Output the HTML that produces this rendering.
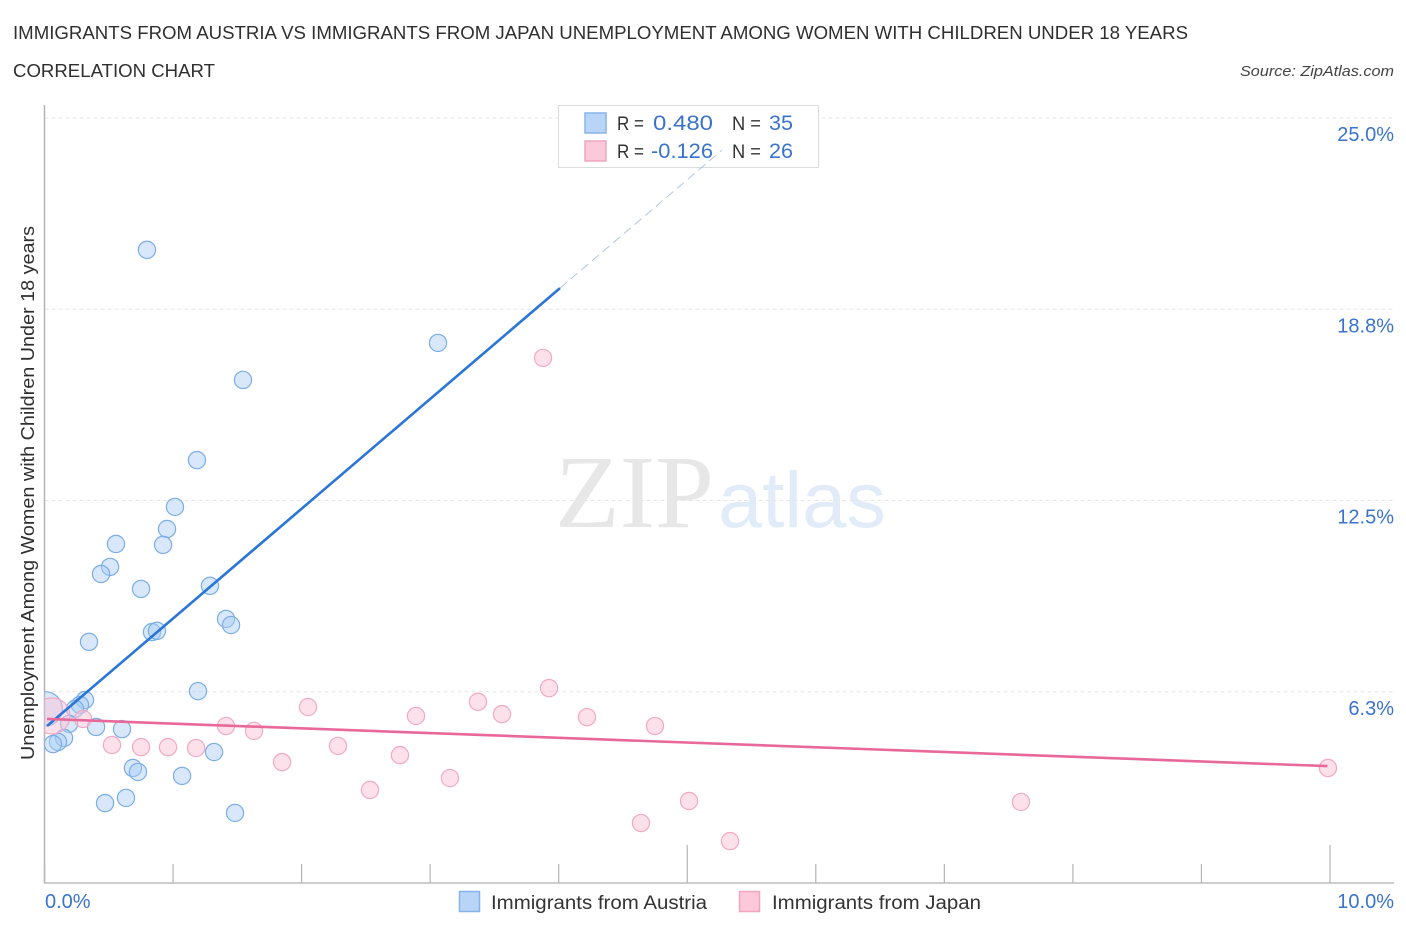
<!DOCTYPE html>
<html lang="en">
<head>
<meta charset="utf-8">
<title>Immigrants from Austria vs Immigrants from Japan Unemployment Correlation Chart</title>
<style>
html,body{margin:0;padding:0;background:#fff;width:1406px;height:930px;overflow:hidden}
svg{display:block}
text{font-family:"Liberation Sans",sans-serif}
</style>
</head>
<body>
<svg id="chart" width="1406" height="930" viewBox="0 0 1406 930" xmlns="http://www.w3.org/2000/svg">
  <defs><clipPath id="plot-clip"><rect x="44.5" y="100" width="1350" height="783"/></clipPath></defs>
  <text x="13" y="39" font-size="18.5" fill="#2f2f2f" textLength="1175" lengthAdjust="spacingAndGlyphs">IMMIGRANTS FROM AUSTRIA VS IMMIGRANTS FROM JAPAN UNEMPLOYMENT AMONG WOMEN WITH CHILDREN UNDER 18 YEARS</text>
  <text x="13" y="77" font-size="18.5" fill="#2f2f2f" textLength="202" lengthAdjust="spacingAndGlyphs">CORRELATION CHART</text>
  <text x="1394" y="76" font-size="15" font-style="italic" fill="#444" text-anchor="end" textLength="154" lengthAdjust="spacingAndGlyphs">Source: ZipAtlas.com</text>
  <g>
    <text x="555" y="527" font-size="104" fill="#e7e7e7" style="font-family:'Liberation Serif',serif" textLength="159" lengthAdjust="spacingAndGlyphs">ZIP</text>
    <text x="718" y="527" font-size="79" fill="#e2ecf9" textLength="168" lengthAdjust="spacingAndGlyphs">atlas</text>
  </g>
  <g id="grid"></g>
  <g id="axes"></g>
  <g id="points-austria" clip-path="url(#plot-clip)"></g>
  <g id="points-japan" clip-path="url(#plot-clip)"></g>
  <text transform="translate(34,760) rotate(-90)" font-size="18" fill="#2f2f2f" textLength="534" lengthAdjust="spacingAndGlyphs">Unemployment Among Women with Children Under 18 years</text>
  <g id="y-labels"></g>
  <g id="x-labels"></g>

  <g>
    <rect x="558.5" y="105.5" width="260" height="62" fill="#fff" stroke="#dcdcdc"/>
    <rect x="585" y="113" width="21" height="20" fill="#b8d4f7" stroke="#88b3ea" stroke-width="1.5"/>
    <rect x="585" y="141" width="21" height="20" fill="#fcc8da" stroke="#f0a6c0" stroke-width="1.5"/>
    <text x="617" y="130" font-size="19" fill="#333" textLength="27" lengthAdjust="spacingAndGlyphs">R =</text>
    <text x="713" y="130" font-size="21" fill="#3b73cc" text-anchor="end" textLength="60" lengthAdjust="spacingAndGlyphs">0.480</text>
    <text x="732" y="130" font-size="19" fill="#333" textLength="29" lengthAdjust="spacingAndGlyphs">N =</text>
    <text x="793" y="130" font-size="21" fill="#3b73cc" text-anchor="end" textLength="24" lengthAdjust="spacingAndGlyphs">35</text>
    <text x="617" y="158" font-size="19" fill="#333" textLength="27" lengthAdjust="spacingAndGlyphs">R =</text>
    <text x="713" y="158" font-size="21" fill="#3b73cc" text-anchor="end" textLength="62" lengthAdjust="spacingAndGlyphs">-0.126</text>
    <text x="732" y="158" font-size="19" fill="#333" textLength="29" lengthAdjust="spacingAndGlyphs">N =</text>
    <text x="793" y="158" font-size="21" fill="#3b73cc" text-anchor="end" textLength="24" lengthAdjust="spacingAndGlyphs">26</text>
  </g>
  <g id="trends"></g>

  <g>
    <rect x="459.5" y="891.5" width="20" height="20" fill="#b8d4f7" stroke="#88b3ea" stroke-width="1.5"/>
    <text x="491" y="909" font-size="19" fill="#333" textLength="216" lengthAdjust="spacingAndGlyphs">Immigrants from Austria</text>
    <rect x="739.5" y="891.5" width="20" height="20" fill="#fcc8da" stroke="#f0a6c0" stroke-width="1.5"/>
    <text x="772" y="909" font-size="19" fill="#333" textLength="209" lengthAdjust="spacingAndGlyphs">Immigrants from Japan</text>
  </g>
</svg>
<script>
const austriaX = [0.797,3.061,1.544,1.186,1.015,0.953,0.922,0.556,0.510,0.440,0.751,1.287,1.412,1.451,0.836,0.875,0.346,1.194,0.315,0.276,0.237,0.191,0.401,0.603,0.152,0.105,0.066,1.319,0.688,0.727,1.070,0.634,0.471,1.482,0.005];
const austriaY = [20.69,17.65,16.44,13.82,12.29,11.57,11.05,11.08,10.33,10.10,9.61,9.71,8.63,8.43,8.20,8.24,7.88,6.27,5.98,5.82,5.69,5.20,5.10,5.03,4.74,4.61,4.54,4.28,3.76,3.63,3.50,2.78,2.61,2.29,5.69];
const austriaSize = [1,1,1,1,1,1,1,1,1,1,1,1,1,1,1,1,1,1,1,1,1,1,1,1,1,1,1,1,1,1,1,1,1,1,2];
const japanX = [3.878,3.925,3.372,2.050,3.559,2.890,4.220,4.749,1.412,1.630,2.283,0.525,0.751,0.961,1.179,2.765,1.848,3.154,2.532,5.014,7.596,4.640,5.333,9.984,0.300,0.058];
const japanY = [17.16,6.37,5.92,5.75,5.52,5.46,5.42,5.13,5.13,4.97,4.48,4.51,4.44,4.44,4.41,4.18,3.95,3.43,3.04,2.68,2.65,1.96,1.37,3.76,5.36,5.46];
const japanSize = [1,1,1,1,1,1,1,1,1,1,1,1,1,1,1,1,1,1,1,1,1,1,1,1,1,2.1];
const austriaTrendX = [0.02,4.01];
const austriaTrendY = [5.13,19.44];
const austriaDashX = [4.01,5.27];
const austriaDashY = [19.44,23.95];
const japanTrendX = [0.02,9.98];
const japanTrendY = [5.36,3.82];
const yTicks = [25,18.75,12.5,6.25];
const yTickLabels = ["25.0%","18.8%","12.5%","6.3%"];
const xTicks = [0,1,2,3,4,5,6,7,8,9,10];
const xMajorTicks = [5,10];
const xTickLabels = ["0.0%","10.0%"];
const xLabelValues = [0,10];

const NS = "http://www.w3.org/2000/svg";
const sx = v => 44.5 + v * 128.55;
const sy = v => 883 - v * 30.6;
function make(tag, parentId, attrs) {
  const el = document.createElementNS(NS, tag);
  for (const k in attrs) el.setAttribute(k, attrs[k]);
  document.getElementById(parentId).appendChild(el);
  return el;
}

yTicks.forEach((v, i) => {
  const g = make("line", "grid", {x1: 44.5, x2: 1394, y1: sy(v), y2: sy(v), stroke: "#e6e6e6", "stroke-width": 1, "stroke-dasharray": "4 3"});
  
  
  const t = make("text", "y-labels", {x: 1394, y: sy(v) + 23, "font-size": 20, fill: "#3b73cc", "text-anchor": "end"});
  t.textContent = yTickLabels[i];
  
  
});

const yAxis = make("line", "axes", {x1: 44.5, x2: 44.5, y1: 105, y2: 883, stroke: "#b4b4b4", "stroke-width": 1.5});


const xAxis = make("line", "axes", {x1: 44, x2: 1394, y1: 883, y2: 883, stroke: "#bdbdbd", "stroke-width": 1.5});


xTicks.forEach(v => {
  const major = xMajorTicks.includes(v);
  const tick = make("line", "axes", {x1: sx(v), x2: sx(v), y1: major ? 845 : 864, y2: 883, stroke: "#b4b4b4", "stroke-width": 1.2});
  
  
});
xLabelValues.forEach((v, i) => {
  const t = make("text", "x-labels", {x: i === 0 ? 45 : 1394, y: 908, "font-size": 20, fill: "#3b73cc", "text-anchor": i === 0 ? "start" : "end"});
  t.textContent = xTickLabels[i];
  
  
});

austriaX.forEach((v, i) => {
  const c = make("circle", "points-austria", {cx: sx(v), cy: sy(austriaY[i]), r: 8.6 * austriaSize[i], fill: "#a9cbf4", "fill-opacity": 0.45, stroke: "#7aade8", "stroke-width": 1.2});
  
  
});
japanX.forEach((v, i) => {
  const c = make("circle", "points-japan", {cx: sx(v), cy: sy(japanY[i]), r: 8.6 * japanSize[i], fill: "#fbc3d6", "fill-opacity": 0.5, stroke: "#f3a9c3", "stroke-width": 1.2});
  
  
});

const tA = make("line", "trends", {x1: sx(austriaTrendX[0]), y1: sy(austriaTrendY[0]), x2: sx(austriaTrendX[1]), y2: sy(austriaTrendY[1]), stroke: "#2a75d8", "stroke-width": 2.6});


const tD = make("line", "trends", {x1: sx(austriaDashX[0]), y1: sy(austriaDashY[0]), x2: sx(austriaDashX[1]), y2: sy(austriaDashY[1]), stroke: "#a9c2e2", "stroke-width": 0.9, "stroke-dasharray": "9 5"});


const tJ = make("line", "trends", {x1: sx(japanTrendX[0]), y1: sy(japanTrendY[0]), x2: sx(japanTrendX[1]), y2: sy(japanTrendY[1]), stroke: "#e8689a", "stroke-width": 2.6});


</script>
</body>
</html>
